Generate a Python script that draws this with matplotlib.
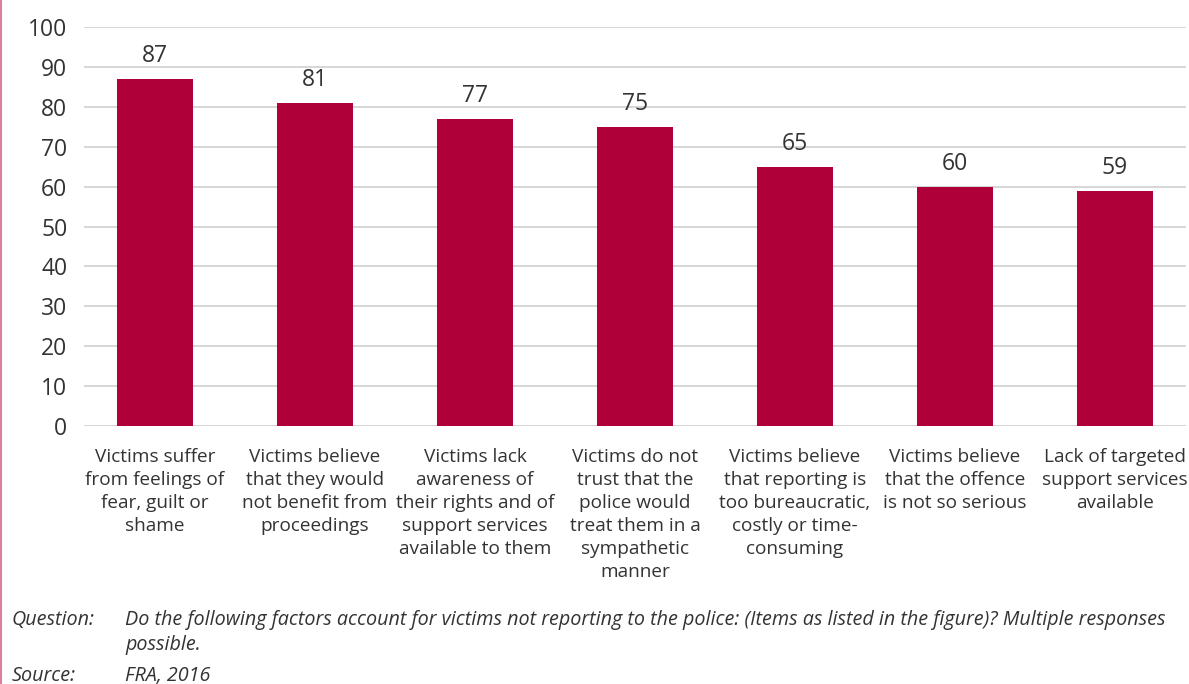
import matplotlib.pyplot as plt
from matplotlib.lines import Line2D

plt.rcParams['font.family'] = ['Open Sans', 'DejaVu Sans']

reasons = [
    "Victims suffer\nfrom feelings of\nfear, guilt or\nshame",
    "Victims believe\nthat they would\nnot benefit from\nproceedings",
    "Victims lack\nawareness of\ntheir rights and of\nsupport services\navailable to them",
    "Victims do not\ntrust that the\npolice would\ntreat them in a\nsympathetic\nmanner",
    "Victims believe\nthat reporting is\ntoo bureaucratic,\ncostly or time-\nconsuming",
    "Victims believe\nthat the offence\nis not so serious",
    "Lack of targeted\nsupport services\navailable",
]
shares = [87, 81, 77, 75, 65, 60, 59]
yticks = [0, 10, 20, 30, 40, 50, 60, 70, 80, 90, 100]

bar_color = "#B0003A"
text_color = "#333333"

fig = plt.figure(figsize=(11.89, 6.84), dpi=100)
ax = fig.add_axes([84 / 1189, 1 - 426 / 684, (1186 - 84) / 1189, (426 - 27) / 684])

x = range(len(shares))
ax.bar(x, shares, width=0.475, color=bar_color, zorder=3)
for xi, v in zip(x, shares):
    ax.text(xi, v + 2.6, str(v), ha="center", va="bottom", fontsize=16.5, color=text_color)

ax.set_ylim(0, 100)
ax.set_xlim(-0.444, 6.444)
ax.set_yticks(yticks)
ax.set_yticklabels([str(t) for t in yticks], fontsize=16.5, color=text_color)
ax.yaxis.grid(True, color="#D0D0D0", linewidth=1.2, zorder=0)
ax.set_xticks(list(x))
ax.set_xticklabels(reasons, fontsize=13.7, color=text_color, linespacing=1.36)
ax.tick_params(axis="both", length=0)
ax.tick_params(axis="x", pad=16)
ax.tick_params(axis="y", pad=12)
for s in ax.spines.values():
    s.set_visible(False)

# thin accent line along the left edge
fig.add_artist(Line2D([0.001, 0.001], [0, 1], transform=fig.transFigure,
                      color="#D9809E", linewidth=1.5))

note_style = dict(fontsize=14.2, style="italic", color=text_color, va="center")
fig.text(12 / 1189, 1 - 620 / 684, "Question:", **note_style)
fig.text(125 / 1189, 1 - 620 / 684,
         "Do the following factors account for victims not reporting to the police: "
         "(Items as listed in the figure)? Multiple responses", **note_style)
fig.text(125 / 1189, 1 - 645 / 684, "possible.", **note_style)
fig.text(12 / 1189, 1 - 676 / 684, "Source:", **note_style)
fig.text(125 / 1189, 1 - 676 / 684, "FRA, 2016", **note_style)

fig.savefig("out.png", dpi=100)
